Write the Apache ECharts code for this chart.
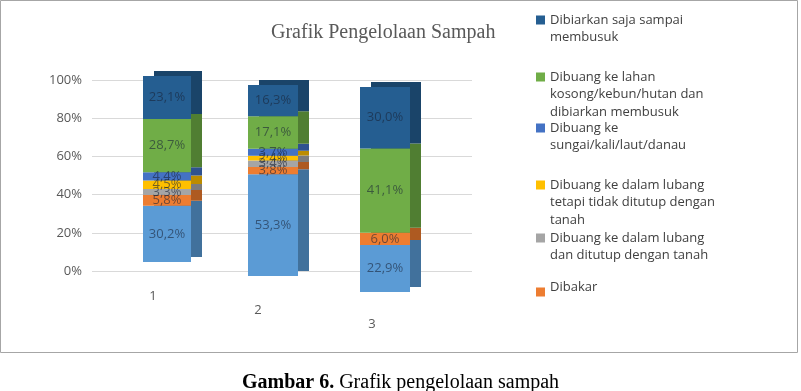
<!DOCTYPE html>
<html><head><meta charset="utf-8">
<script src="https://cdn.jsdelivr.net/npm/echarts@6/dist/echarts.min.js"></script>
<style>html,body{margin:0;padding:0;background:#fff}#c{width:801px;height:391px}</style>
</head><body><div id="c"></div>
<script>
// ---- data ----
const categories = ['1', '2', '3'];
const seriesNames = [
  'Lainnya',
  'Dibakar',
  'Dibuang ke dalam lubang dan ditutup dengan tanah',
  'Dibuang ke dalam lubang tetapi tidak ditutup dengan tanah',
  'Dibuang ke sungai/kali/laut/danau',
  'Dibuang ke lahan kosong/kebun/hutan dan dibiarkan membusuk',
  'Dibiarkan saja sampai membusuk'
];
const lainnya            = [30.2, 53.3, 22.9];
const dibakar            = [5.8, 3.8, 6.0];
const lubangDitutup      = [3.3, 3.4, 0.0];
const lubangTidakDitutup = [4.5, 2.4, 0.0];
const sungai             = [4.4, 3.7, 0.0];
const lahanKosong        = [28.7, 17.1, 41.1];
const dibiarkan          = [23.1, 16.3, 30.0];
const yTickLabels = ['0%', '20%', '40%', '60%', '80%', '100%'];
const legendOrder = [6, 5, 4, 3, 2, 1];
const legendLabels = {
  'Dibiarkan saja sampai membusuk': 'Dibiarkan saja sampai\nmembusuk',
  'Dibuang ke lahan kosong/kebun/hutan dan dibiarkan membusuk': 'Dibuang ke lahan\nkosong/kebun/hutan dan\ndibiarkan membusuk',
  'Dibuang ke sungai/kali/laut/danau': 'Dibuang ke\nsungai/kali/laut/danau',
  'Dibuang ke dalam lubang tetapi tidak ditutup dengan tanah': 'Dibuang ke dalam lubang\ntetapi tidak ditutup dengan\ntanah',
  'Dibuang ke dalam lubang dan ditutup dengan tanah': 'Dibuang ke dalam lubang\ndan ditutup dengan tanah',
  'Dibakar': 'Dibakar'
};
const values = [lainnya, dibakar, lubangDitutup, lubangTidakDitutup, sungai, lahanKosong, dibiarkan];

// ---- styles / layout ----
const frontColors = ['#5b9bd5', '#ed7d31', '#a5a5a5', '#ffc000', '#4472c4', '#70ad47', '#255e91'];
const sideColors  = ['#41719c', '#ae5a21', '#7b7b7b', '#bc8c00', '#2f528f', '#507e32', '#1a4469'];
const boxes = [
  {left: 143, top: 76, width: 48, height: 186, lm: 28, lp: 28},
  {left: 248, top: 85, width: 50, height: 191, lm: 28, lp: 30},
  {left: 360, top: 87, width: 50, height: 205, lm: 26, lp: 26}
];
const legendLine1 = [20, 77, 128, 185, 238, 287];
const LH = 17.5;
const FONT = '"Open Sans", sans-serif';

const grids = [{left: 92, top: 80, width: 380, height: 191}];
const xAxes = [{gridIndex: 0, type: 'category', data: [], show: false}];
const yAxes = [{
  gridIndex: 0, type: 'value', min: 0, max: 100, interval: 20,
  axisLine: {show: false}, axisTick: {show: false},
  axisLabel: {formatter: v => yTickLabels[v / 20], color: '#595959', fontSize: 13, fontFamily: FONT, margin: 10},
  splitLine: {lineStyle: {color: '#d9d9d9'}}
}];
const series = [];
const fmt = p => p.value > 0 ? p.value.toFixed(1).replace('.', ',') + '%' : '';

boxes.forEach((b, i) => {
  grids.push({left: b.left, top: b.top, width: b.width, height: b.height});
  xAxes.push({
    gridIndex: i + 1, type: 'category', data: [categories[i]],
    axisLine: {show: false}, axisTick: {show: false},
    axisLabel: {color: '#595959', fontSize: 13, fontFamily: FONT, margin: b.lm, padding: [0, b.lp, 0, 0]}
  });
  yAxes.push({gridIndex: i + 1, type: 'value', min: 0, max: 100, show: false, splitLine: {show: false}});
});
boxes.forEach((b, i) => {
  grids.push({left: b.left + 11, top: b.top - 5, width: b.width, height: b.height});
  xAxes.push({gridIndex: i + 4, type: 'category', data: [categories[i]], show: false});
  yAxes.push({gridIndex: i + 4, type: 'value', min: 0, max: 100, show: false, splitLine: {show: false}});
});
boxes.forEach((b, i) => {
  values.forEach((arr, k) => {
    series.push({
      type: 'bar', name: seriesNames[k], stack: 'f' + i,
      xAxisIndex: i + 1, yAxisIndex: i + 1, z: 3,
      barWidth: '100%', data: [arr[i]],
      itemStyle: {color: frontColors[k]},
      label: {show: true, position: 'inside', formatter: fmt, color: 'rgba(25,35,55,0.6)', fontSize: 13, fontFamily: FONT}
    });
  });
});
boxes.forEach((b, i) => {
  values.forEach((arr, k) => {
    series.push({
      type: 'bar', name: seriesNames[k], stack: 's' + i,
      xAxisIndex: i + 4, yAxisIndex: i + 4, z: 1, silent: true,
      barWidth: '100%', data: [arr[i]],
      itemStyle: {color: sideColors[k]},
      label: {show: false}
    });
  });
});

const legends = legendOrder.map((k, j) => {
  const name = seriesNames[k];
  const n = legendLabels[name].split('\n').length;
  let h, iconY, top;
  if (n > 1) {
    h = n * LH; iconY = LH / 2 - 4.5; top = legendLine1[j] - LH / 2;
  } else {
    h = 19; iconY = 10; top = legendLine1[j] - 9.5;
  }
  return {
    data: [name], orient: 'vertical', left: 536, top: top, padding: 0,
    itemWidth: 9, itemHeight: h, itemGap: 0,
    icon: 'path://M0,0h9M0,' + iconY + 'h9v9h-9zM0,' + h + 'h9',
    itemStyle: {borderWidth: 0},
    formatter: nm => legendLabels[nm],
    textStyle: {color: '#404040', fontSize: 13, fontFamily: FONT, lineHeight: LH}
  };
});

const chart = echarts.init(document.getElementById('c'), null, {renderer: 'canvas'});
chart.setOption({
  animation: false,
  backgroundColor: '#ffffff',
  title: [
    {text: 'Grafik Pengelolaan Sampah', left: 266, top: 18,
     textStyle: {fontFamily: '"Liberation Serif", serif', fontSize: 20, fontWeight: 'normal', color: '#595959'}},
    {text: '{b|Gambar 6.} Grafik pengelolaan sampah', left: 'center', top: 368,
     textStyle: {fontFamily: '"Liberation Serif", serif', fontSize: 20, fontWeight: 'normal', color: '#000',
       rich: {b: {fontFamily: '"Liberation Serif", serif', fontSize: 20, fontWeight: 'bold', color: '#000'}}}}
  ],
  legend: legends,
  grid: grids,
  xAxis: xAxes,
  yAxis: yAxes,
  series: series,
  graphic: [{type: 'rect', z: -1, shape: {x: 0.5, y: 0.5, width: 797, height: 352},
    style: {fill: 'none', stroke: '#a6a6a6', lineWidth: 1}}]
});
</script></body></html>
